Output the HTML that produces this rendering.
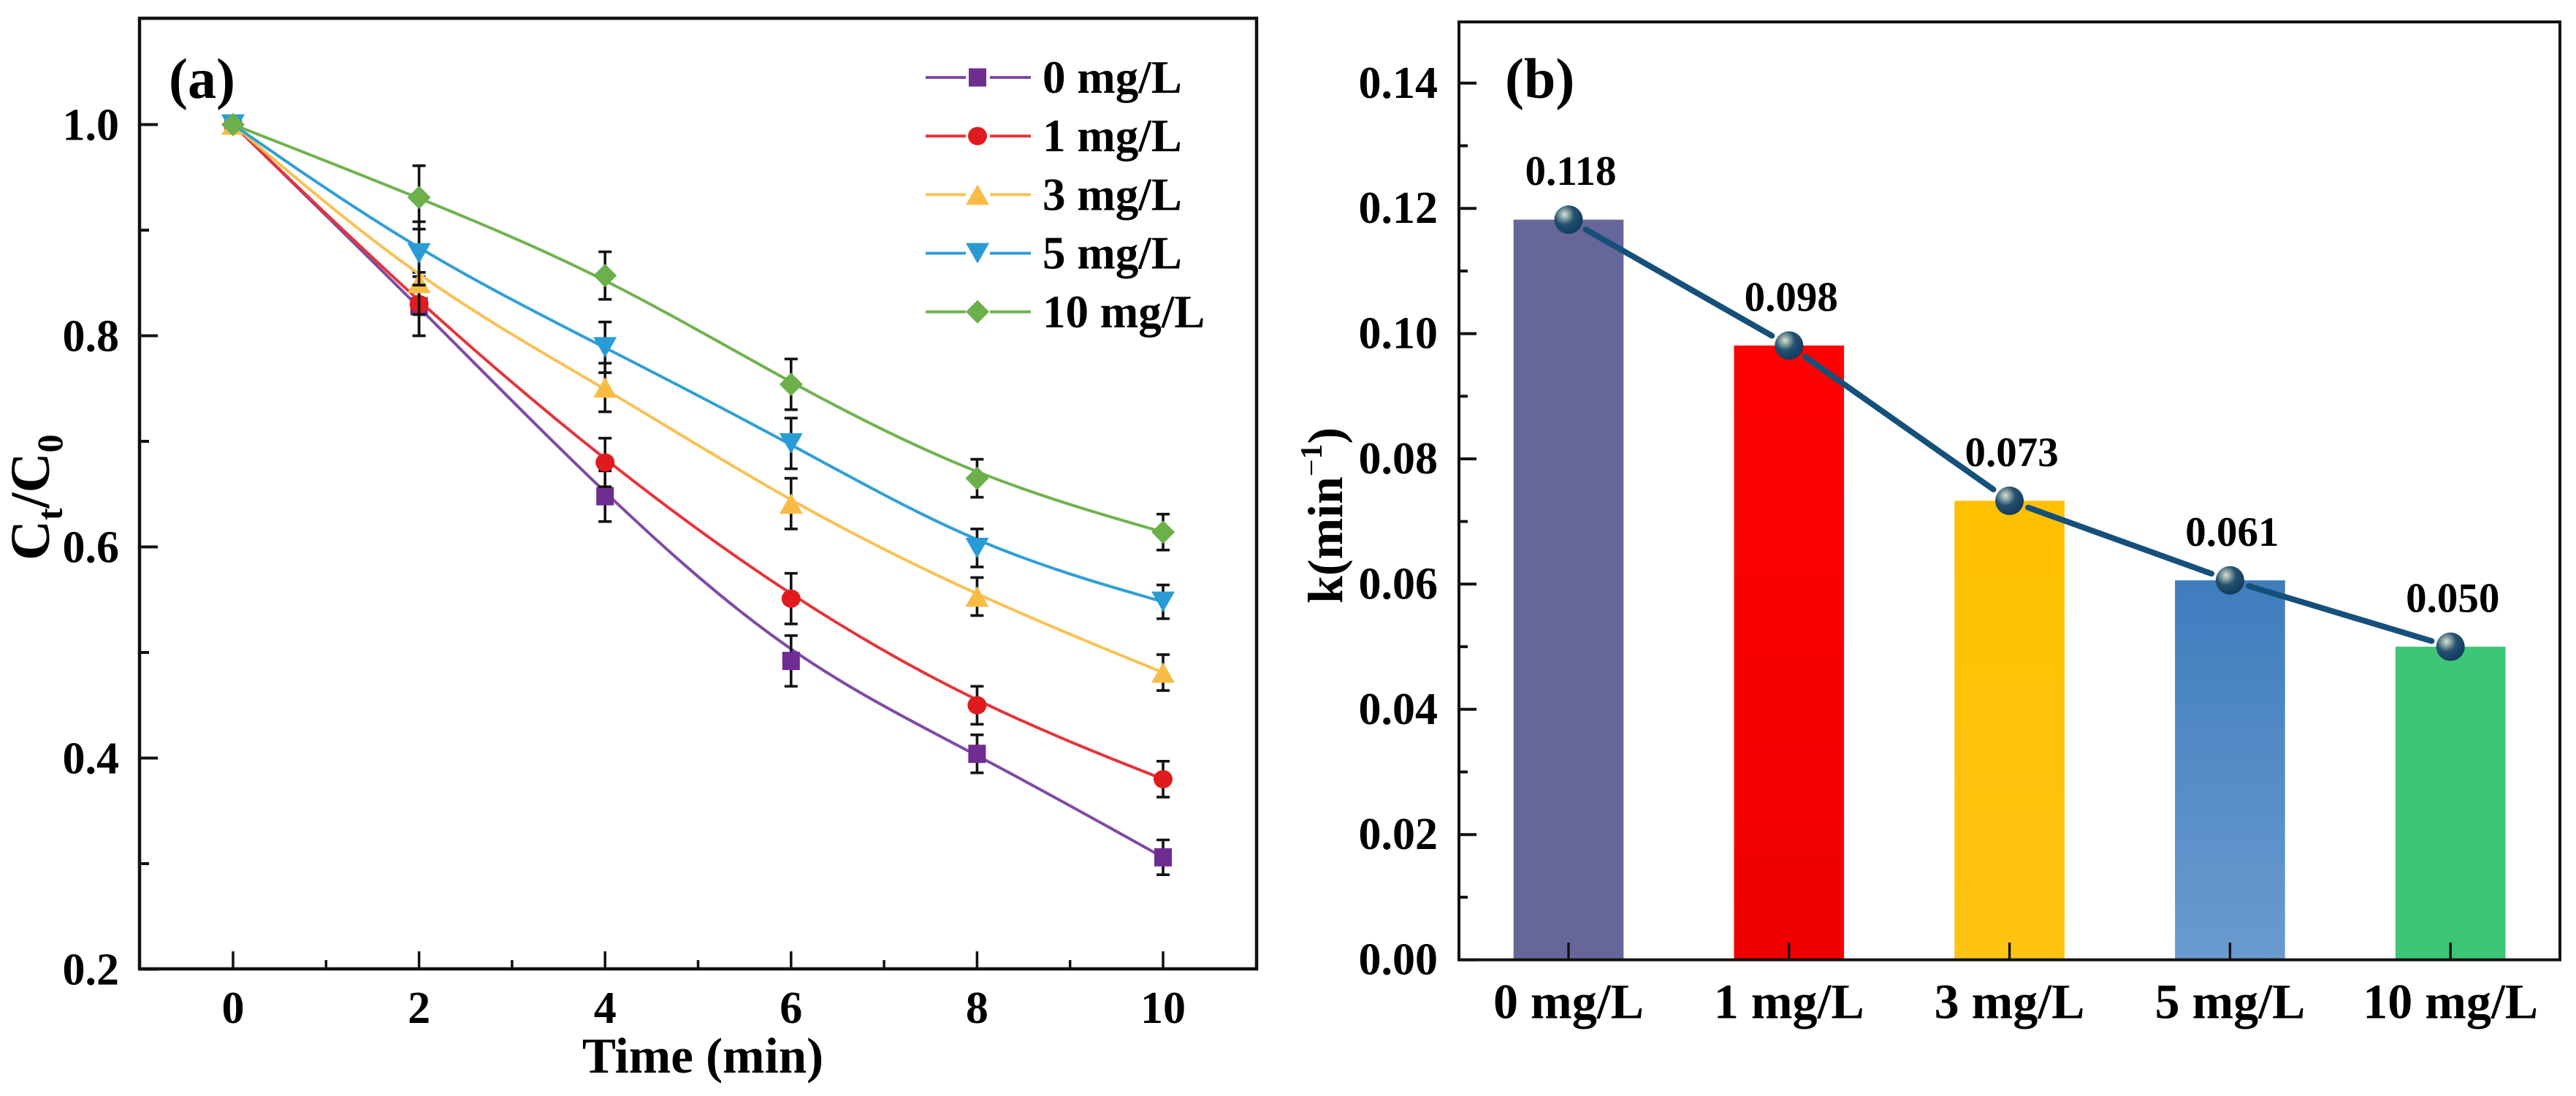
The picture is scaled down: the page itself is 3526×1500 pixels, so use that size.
<!DOCTYPE html>
<html lang="en">
<head>
<meta charset="utf-8">
<title>Ct/C0 decay and rate constant k</title>
<style>
html,body{margin:0;padding:0;background:#fff;}
svg{display:block;}
text{font-family:"Liberation Serif","Times New Roman",serif;font-weight:bold;fill:#000;}
</style>
</head>
<body>
<svg id="figure" xmlns="http://www.w3.org/2000/svg" width="3526" height="1500" viewBox="0 0 3526 1500">
  <defs>
    <radialGradient id="sphere" cx="0.36" cy="0.32" r="0.7">
      <stop offset="0" stop-color="#d6e2d4"/>
      <stop offset="0.2" stop-color="#8fa9a6"/>
      <stop offset="0.5" stop-color="#24506f"/>
      <stop offset="1" stop-color="#123a5c"/>
    </radialGradient>
    <linearGradient id="bar-red" x1="0" y1="0" x2="0" y2="1">
      <stop offset="0" stop-color="#ff0000"/><stop offset="1" stop-color="#f00000"/>
    </linearGradient>
    <linearGradient id="bar-amber" x1="0" y1="0" x2="0" y2="1">
      <stop offset="0" stop-color="#ffc000"/><stop offset="1" stop-color="#ffc413"/>
    </linearGradient>
    <linearGradient id="bar-blue" x1="0" y1="0" x2="0" y2="1">
      <stop offset="0" stop-color="#3f7dbd"/><stop offset="1" stop-color="#6a9bcf"/>
    </linearGradient>
  </defs>

  <g id="panel-a">
    <rect x="191" y="25" width="1529" height="1301" fill="none" stroke="#111" stroke-width="4.5"/>
    <g id="a-ticks"></g>
    <g id="a-series"></g>
    <g id="a-legend"></g>
    <text x="231" y="134" font-size="78">(a)</text>
    <text x="962" y="1468" font-size="69" text-anchor="middle">Time (min)</text>
    <text transform="translate(67 767) rotate(-90)" font-size="76">C<tspan font-size="50" dy="18">t</tspan><tspan dy="-18">/C</tspan><tspan font-size="50" dy="18">0</tspan></text>
  </g>

  <g id="panel-b">
    <g id="b-bars"></g>
    <rect x="1997" y="30" width="1507" height="1283.6" fill="none" stroke="#111" stroke-width="4"/>
    <g id="b-ticks"></g>
    <g id="b-line"></g>
    <text x="2060" y="134" font-size="78">(b)</text>
    <text transform="translate(1837 826) rotate(-90)" font-size="68">k(min<tspan font-size="42" dy="-28" font-weight="normal">−</tspan><tspan font-size="42">1</tspan><tspan dy="28">)</tspan></text>
  </g>
</svg>

<script>
// ---------- Panel (a) data ----------
const timePoints = [0, 2, 4, 6, 8, 10];
const seriesNames = ["0 mg/L", "1 mg/L", "3 mg/L", "5 mg/L", "10 mg/L"];
const values0mg  = [1.000, 0.828, 0.648, 0.492, 0.404, 0.306];
const values1mg  = [1.000, 0.830, 0.680, 0.551, 0.450, 0.380];
const values3mg  = [1.000, 0.850, 0.751, 0.641, 0.553, 0.481];
const values5mg  = [1.000, 0.878, 0.789, 0.698, 0.599, 0.548];
const values10mg = [1.000, 0.931, 0.857, 0.754, 0.665, 0.614];
const errors0mg  = [0, 0.028, 0.024, 0.024, 0.018, 0.0165];
const errors1mg  = [0, 0.030, 0.023, 0.024, 0.018, 0.017];
const errors3mg  = [0, 0.030, 0.023, 0.024, 0.018, 0.017];
const errors5mg  = [0, 0.030, 0.024, 0.024, 0.018, 0.016];
const errors10mg = [0, 0.030, 0.0225, 0.024, 0.018, 0.017];
const xTicksA = [0, 2, 4, 6, 8, 10];
const xMinorA = [1, 3, 5, 7, 9];
const yTicksA = ["0.2", "0.4", "0.6", "0.8", "1.0"];
const yMinorA = [0.3, 0.5, 0.7, 0.9];

// ---------- Panel (b) data ----------
const categories = ["0 mg/L", "1 mg/L", "3 mg/L", "5 mg/L", "10 mg/L"];
const rateValues = [0.1182, 0.0981, 0.0733, 0.0606, 0.0500];
const rateLabels = ["0.118", "0.098", "0.073", "0.061", "0.050"];
const yTicksB = ["0.00", "0.02", "0.04", "0.06", "0.08", "0.10", "0.12", "0.14"];
const yMinorB = [0.01, 0.03, 0.05, 0.07, 0.09, 0.11, 0.13];

const NS = "http://www.w3.org/2000/svg";
function make(tag, attrs, parent) {
  const el = document.createElementNS(NS, tag);
  for (const k in attrs) el.setAttribute(k, attrs[k]);
  parent.appendChild(el);
  return el;
}

// axis functions
const xA = v => 319 + v * 127.3;
const yA = v => 170.5 + (1.0 - v) * 1445;
const xB = i => 2147 + i * 301.8;
const yB = v => 1313.6 - v * 8570;

const styleA = [
  { key: "0-mg", line: "#7f4aa5", fill: "#6f2c91", marker: "square", v: values0mg, e: errors0mg },
  { key: "1-mg", line: "#e5343a", fill: "#e01b1e", marker: "circle", v: values1mg, e: errors1mg },
  { key: "3-mg", line: "#f9c154", fill: "#f8bc45", marker: "up", v: values3mg, e: errors3mg },
  { key: "5-mg", line: "#2f9fd6", fill: "#2a9bd5", marker: "down", v: values5mg, e: errors5mg },
  { key: "10-mg", line: "#70b24f", fill: "#6bb04a", marker: "diamond", v: values10mg, e: errors10mg }
];

function drawMarker(kind, cx, cy, fill, parent) {
  if (kind === "square") return make("rect", { x: cx - 12, y: cy - 12.5, width: 24, height: 25, fill: fill }, parent);
  if (kind === "circle") return make("ellipse", { cx: cx, cy: cy, rx: 13, ry: 12.5, fill: fill }, parent);
  let pts;
  if (kind === "up") pts = [[cx - 16, cy + 14], [cx + 16, cy + 14], [cx, cy - 14]];
  if (kind === "down") pts = [[cx - 16, cy - 14], [cx + 16, cy - 14], [cx, cy + 14]];
  if (kind === "diamond") pts = [[cx - 16, cy], [cx, cy - 16], [cx + 16, cy], [cx, cy + 16]];
  return make("polygon", { points: pts.map(p => p.join(",")).join(" "), fill: fill }, parent);
}

// Uniform cubic B-spline with the data points as control points, clamped at both ends.
function bSplinePath(pts) {
  const first = pts[0], last = pts[pts.length - 1];
  const c = [first, first].concat(pts, [last, last]);
  const w = (a, b, d, wa, wb, wd, n) => [(a[0] * wa + b[0] * wb + d[0] * wd) / n, (a[1] * wa + b[1] * wb + d[1] * wd) / n];
  let d = "M" + first[0] + " " + first[1];
  for (let i = 1; i < c.length - 2; i++) {
    const c1 = w(c[i], c[i + 1], c[i], 2, 1, 0, 3);
    const c2 = w(c[i], c[i + 1], c[i], 1, 2, 0, 3);
    const end = w(c[i], c[i + 1], c[i + 2], 1, 4, 1, 6);
    d += " C" + c1[0] + " " + c1[1] + " " + c2[0] + " " + c2[1] + " " + end[0] + " " + end[1];
  }
  return d;
}

// ---------- Panel (a) ticks ----------
const aTicks = document.getElementById("a-ticks");
xTicksA.forEach(t => {
  const tick = make("line", { x1: xA(t), x2: xA(t), y1: 1326, y2: 1302, stroke: "#111", "stroke-width": 3.5 }, aTicks);
  
  
  const label = make("text", { x: xA(t), y: 1400, "font-size": 62, "text-anchor": "middle" }, aTicks);
  label.textContent = String(t);
  
  
});
xMinorA.forEach(t => {
  const tick = make("line", { x1: xA(t), x2: xA(t), y1: 1326, y2: 1314, stroke: "#111", "stroke-width": 3.5 }, aTicks);
  
  
});
yTicksA.forEach(t => {
  const y = yA(parseFloat(t));
  const tick = make("line", { x1: 191, x2: 216, y1: y, y2: y, stroke: "#111", "stroke-width": 4 }, aTicks);
  
  
  const label = make("text", { x: 163, y: y + 21, "font-size": 62, "text-anchor": "end" }, aTicks);
  label.textContent = t;
  
  
});
yMinorA.forEach(t => {
  const tick = make("line", { x1: 191, x2: 204, y1: yA(t), y2: yA(t), stroke: "#111", "stroke-width": 4 }, aTicks);
  
  
});

// ---------- Panel (a) series ----------
const aSeries = document.getElementById("a-series");
styleA.forEach(s => {
  const group = make("g", {}, aSeries);
  
  

  const pts = timePoints.map((t, i) => [xA(t), yA(s.v[i])]);
  const path = make("path", { d: bSplinePath(pts), fill: "none", stroke: s.line, "stroke-width": 4 }, group);
  
  

  timePoints.forEach((t, i) => {
    const px = xA(t);
    if (s.e[i] > 0) {
      const top = yA(s.v[i] + s.e[i]), bottom = yA(s.v[i] - s.e[i]);
      const bar = make("path", {
        d: "M" + px + " " + top + "V" + bottom + "M" + (px - 9) + " " + top + "H" + (px + 9) + "M" + (px - 9) + " " + bottom + "H" + (px + 9),
        fill: "none", stroke: "#111", "stroke-width": 3.6 }, group);
      
      
    }
    const marker = drawMarker(s.marker, px, yA(s.v[i]), s.fill, group);
    
    
  });
});

// ---------- Panel (a) legend ----------
const aLegend = document.getElementById("a-legend");
styleA.forEach((s, i) => {
  const y = 106 + i * 80.2;
  const entry = make("g", {}, aLegend);
  
  
  make("line", { x1: 1267, x2: 1322, y1: y, y2: y, stroke: s.line, "stroke-width": 4 }, entry);
  make("line", { x1: 1355, x2: 1411, y1: y, y2: y, stroke: s.line, "stroke-width": 4 }, entry);
  drawMarker(s.marker, 1338, y, s.fill, entry);
  const label = make("text", { x: 1427, y: y + 21, "font-size": 63 }, entry);
  label.textContent = seriesNames[i];
  
  
});

// ---------- Panel (b) bars ----------
const barFills = ["#66669a", "url(#bar-red)", "url(#bar-amber)", "url(#bar-blue)", "#3cc676"];
const bBars = document.getElementById("b-bars");
rateValues.forEach((v, i) => {
  const bar = make("rect", { x: xB(i) - 75.3, y: yB(v), width: 150.6, height: yB(0) - yB(v), fill: barFills[i] }, bBars);
  
  
});

// ---------- Panel (b) ticks ----------
const bTicks = document.getElementById("b-ticks");
categories.forEach((c, i) => {
  const tick = make("line", { x1: xB(i), x2: xB(i), y1: 1313.6, y2: 1290, stroke: "#111", "stroke-width": 3.4 }, bTicks);
  
  
  const label = make("text", { x: xB(i), y: 1393.5, "font-size": 68, "text-anchor": "middle" }, bTicks);
  label.textContent = c;
  
  
});
yTicksB.forEach(t => {
  const y = yB(parseFloat(t));
  const tick = make("line", { x1: 1997, x2: 2021, y1: y, y2: y, stroke: "#111", "stroke-width": 4 }, bTicks);
  
  
  const label = make("text", { x: 1968, y: y + 20, "font-size": 62, "text-anchor": "end" }, bTicks);
  label.textContent = t;
  
  
});
yMinorB.forEach(t => {
  const tick = make("line", { x1: 1997, x2: 2009, y1: yB(t), y2: yB(t), stroke: "#111", "stroke-width": 4 }, bTicks);
  
  
});

// ---------- Panel (b) trend line ----------
const bLine = document.getElementById("b-line");
for (let i = 0; i < rateValues.length - 1; i++) {
  const ax = xB(i), ay = yB(rateValues[i]), bx = xB(i + 1), by = yB(rateValues[i + 1]);
  const len = Math.hypot(bx - ax, by - ay), ux = (bx - ax) / len, uy = (by - ay) / len, gap = 27;
  const seg = make("line", { x1: ax + ux * gap, y1: ay + uy * gap, x2: bx - ux * gap, y2: by - uy * gap, stroke: "#15507a", "stroke-width": 8, "stroke-linecap": "round" }, bLine);
  
  
}
rateValues.forEach((v, i) => {
  const dot = make("ellipse", { cx: xB(i), cy: yB(v), rx: 19.5, ry: 19.5, fill: "url(#sphere)" }, bLine);
  
  
  const label = make("text", { x: xB(i) + 3, y: yB(v) - 47.5, "font-size": 57, "text-anchor": "middle" }, bLine);
  label.textContent = rateLabels[i];
  
  
});
</script>
</body>
</html>
